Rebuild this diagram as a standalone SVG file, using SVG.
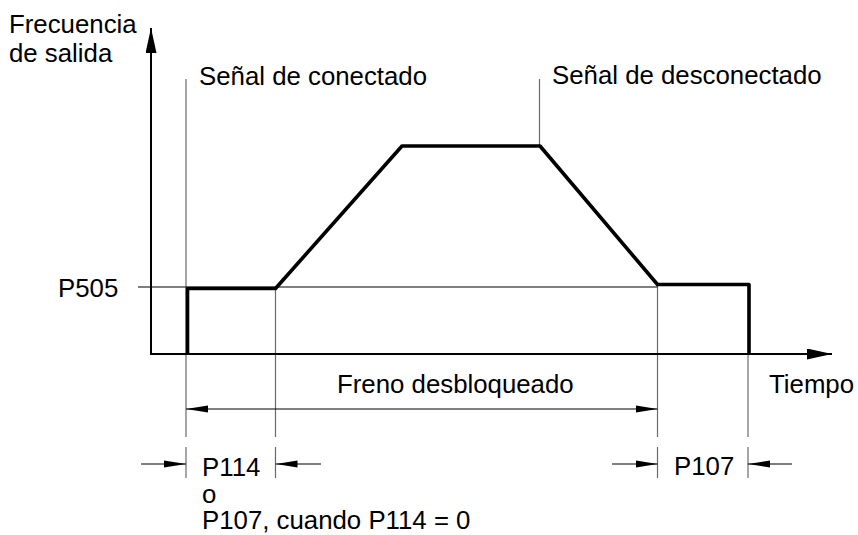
<svg xmlns="http://www.w3.org/2000/svg" width="858" height="535" viewBox="0 0 858 535">
<defs>
<style>
text{font-family:"Liberation Sans",Arial,sans-serif;font-size:25.8px;fill:#000}
.axis{stroke:#000;stroke-width:2;fill:none}
.curve{stroke:#000;stroke-width:3.6;fill:none;stroke-linejoin:round}
.ext{stroke:#6a6a6a;stroke-width:1.2;fill:none}
.thin{stroke:#000;stroke-width:1.2;fill:none}
</style>
<marker id="big" markerUnits="userSpaceOnUse" markerWidth="25" markerHeight="11" refX="25" refY="5.5" orient="auto"><path d="M0,0 L25,5.5 L0,11 z" fill="#000"/></marker>
<marker id="dim" markerUnits="userSpaceOnUse" markerWidth="22" markerHeight="8" refX="22" refY="4" orient="auto-start-reverse"><path d="M0,0.5 L22,4 L0,7.5 z" fill="#000"/></marker>
</defs>
<g id="connectors">
<g id="extension-lines">
<line class="ext" x1="186" y1="79" x2="186" y2="437"/>
<line class="ext" x1="186" y1="447" x2="186" y2="478"/>
<line class="ext" x1="275.5" y1="288" x2="275.5" y2="437"/>
<line class="ext" x1="275.5" y1="447" x2="275.5" y2="478"/>
<line class="ext" x1="657.5" y1="284" x2="657.5" y2="437"/>
<line class="ext" x1="657.5" y1="447" x2="657.5" y2="478"/>
<line class="ext" x1="748" y1="354" x2="748" y2="437"/>
<line class="ext" x1="748" y1="447" x2="748" y2="478"/>
<line class="ext" x1="539.5" y1="79" x2="539.5" y2="146"/>
</g>
<line id="p505-line" class="thin" x1="138" y1="287" x2="657.5" y2="287"/>
<g id="axes">
<line class="axis" x1="151" y1="354" x2="151" y2="28" marker-end="url(#big)"/>
<line class="axis" x1="150" y1="354" x2="832" y2="354" marker-end="url(#big)"/>
</g>
<path id="frequency-curve" class="curve" d="M187.5,354 L187.5,288.5 L275.5,288.5 L402,146 L540,146 L657.5,284.5 L749,284.5 L749,354"/>
<g id="dimensions">
<line class="thin" x1="186" y1="409" x2="657.5" y2="409" marker-start="url(#dim)" marker-end="url(#dim)"/>
<line class="thin" x1="141" y1="464" x2="186" y2="464" marker-end="url(#dim)"/>
<line class="thin" x1="321" y1="464" x2="275.5" y2="464" marker-end="url(#dim)"/>
<line class="thin" x1="612" y1="464" x2="657.5" y2="464" marker-end="url(#dim)"/>
<line class="thin" x1="792" y1="464" x2="748" y2="464" marker-end="url(#dim)"/>
</g>
</g>
<g id="labels">
<g id="y-label"><text x="9" y="33">Frecuencia</text><text x="9" y="62">de salida</text></g>
<g id="on-signal"><text x="199" y="85">Señal de conectado</text></g>
<g id="off-signal"><text x="552" y="84">Señal de desconectado</text></g>
<g id="p505"><text x="58" y="297">P505</text></g>
<g id="time"><text x="769" y="393">Tiempo</text></g>
<g id="brake"><text x="337" y="393">Freno desbloqueado</text></g>
<g id="p114"><text x="202" y="476">P114</text><text x="202" y="503">o</text><text x="202" y="529">P107, cuando P114 = 0</text></g>
<g id="p107"><text x="674" y="475">P107</text></g>
</g>
</svg>
